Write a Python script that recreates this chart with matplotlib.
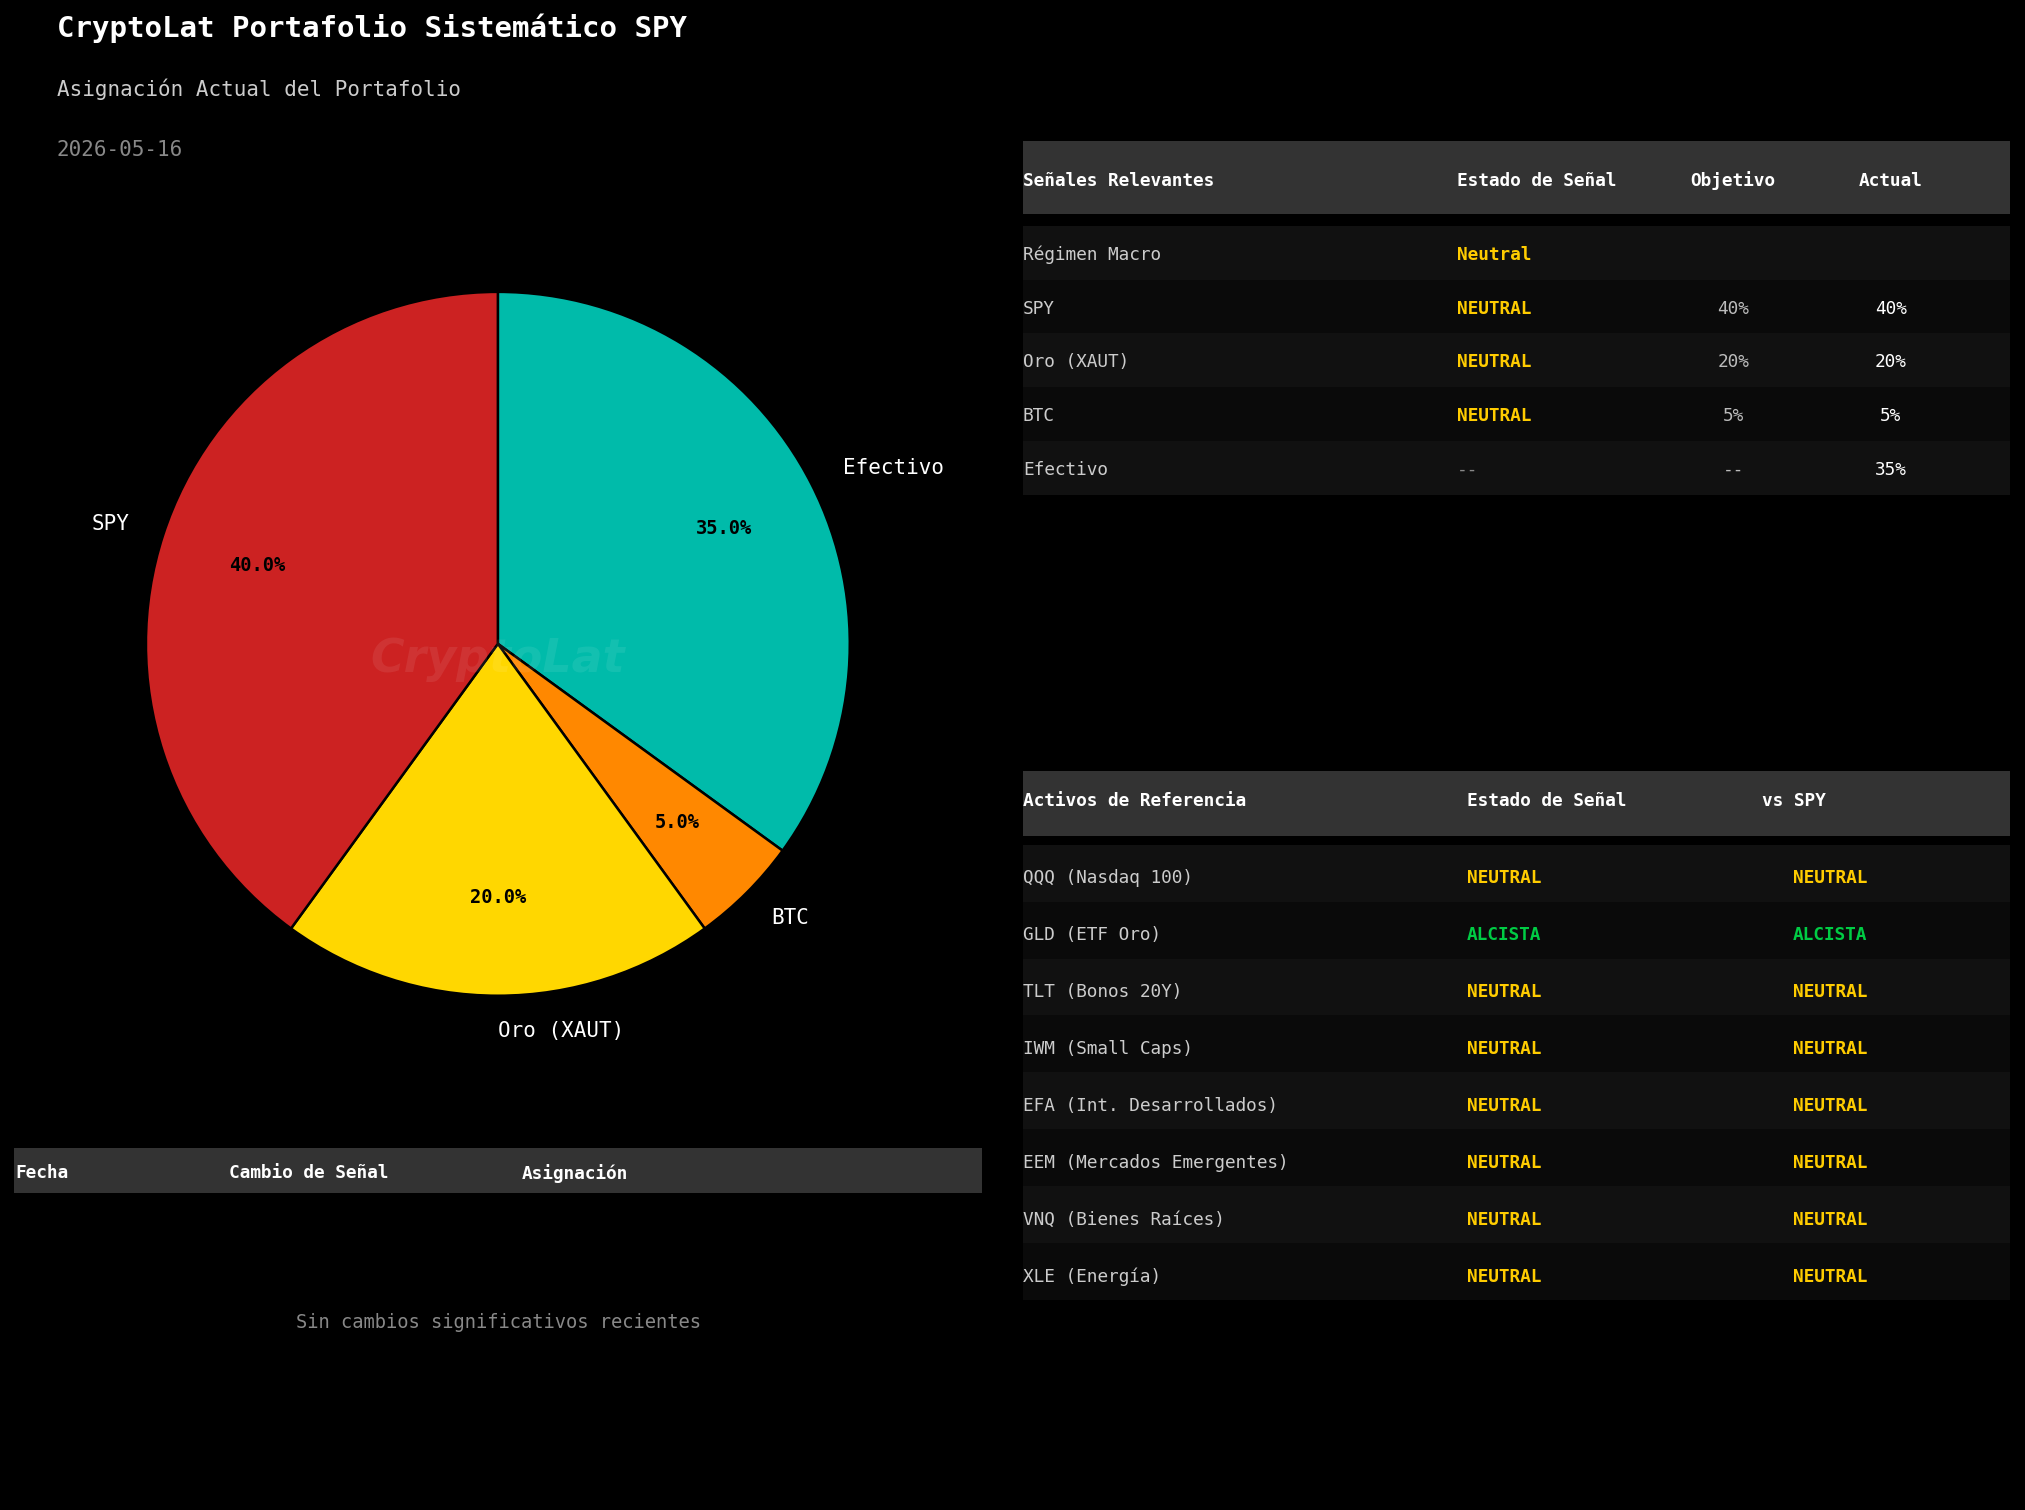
import matplotlib.pyplot as plt

plt.rcParams['font.family'] = 'DejaVu Sans Mono'

title = "CryptoLat Portafolio Sistemático SPY"
subtitle = "Asignación Actual del Portafolio"
fecha = "2026-05-16"

# asignacion (pie)
pie_labels = ["Efectivo", "BTC", "Oro (XAUT)", "SPY"]
pie_values = [35, 5, 20, 40]
pie_colors = ["#00bbaa", "#ff8800", "#ffd700", "#cc2222"]

# tabla de señales
sig_cols = ["Señales Relevantes", "Estado de Señal", "Objetivo", "Actual"]
sig_names = ["Régimen Macro", "SPY", "Oro (XAUT)", "BTC", "Efectivo"]
sig_states = ["Neutral", "NEUTRAL", "NEUTRAL", "NEUTRAL", "--"]
sig_target = ["", "40%", "20%", "5%", "--"]
sig_actual = ["", "40%", "20%", "5%", "35%"]

# activos de referencia
ref_cols = ["Activos de Referencia", "Estado de Señal", "vs SPY"]
ref_names = ["QQQ (Nasdaq 100)", "GLD (ETF Oro)", "TLT (Bonos 20Y)", "IWM (Small Caps)",
             "EFA (Int. Desarrollados)", "EEM (Mercados Emergentes)", "VNQ (Bienes Raíces)",
             "XLE (Energía)"]
ref_states = ["NEUTRAL", "ALCISTA", "NEUTRAL", "NEUTRAL", "NEUTRAL", "NEUTRAL", "NEUTRAL", "NEUTRAL"]
ref_vs_spy = ["NEUTRAL", "ALCISTA", "NEUTRAL", "NEUTRAL", "NEUTRAL", "NEUTRAL", "NEUTRAL", "NEUTRAL"]

# historial de cambios
hist_cols = ["Fecha", "Cambio de Señal", "Asignación"]
hist_rows = []
hist_empty = "Sin cambios significativos recientes"

BG = "#000000"
HEAD_BG = "#333333"
ROW_BG = ["#111111", "#0a0a0a"]
FS = 8.5


def state_style(s):
    if s.upper() == "NEUTRAL":
        return dict(color="#ffcc00", fontweight="bold")
    if s.upper() == "ALCISTA":
        return dict(color="#00cc44", fontweight="bold")
    if s.upper() == "BAJISTA":
        return dict(color="#ff3333", fontweight="bold")
    return dict(color="#888888")


fig = plt.figure(figsize=(13.5, 10.0667), dpi=150, facecolor=BG)

# lienzo en unidades de la imagen
W, H = 1568.0, 1169.2
cv = fig.add_axes([0, 0, 1, 1])
cv.set_xlim(0, W)
cv.set_ylim(H, 0)
cv.axis('off')
cv.set_facecolor(BG)

cv.text(44, 22, title, color="white", fontsize=14, fontweight="bold", va="center")
cv.text(44, 69, subtitle, color="#cccccc", fontsize=10, va="center")
cv.text(44, 116, fecha, color="#888888", fontsize=10, va="center")

# pie
cx, cy, r = 385.5, 498.5, 272.5
side = 2.5 * r
pax = fig.add_axes([(cx - side / 2) / W, (H - cy - side / 2) / H, side / W, side / H])
wedges, texts, autotexts = pax.pie(pie_values, labels=pie_labels, colors=pie_colors,
                                   startangle=90, counterclock=False, autopct='%1.1f%%',
                                   pctdistance=0.72, labeldistance=1.1,
                                   wedgeprops=dict(edgecolor="black", linewidth=1.2),
                                   textprops=dict(color="white", fontsize=10))
for t in texts:
    x, _ = t.get_position()
    t.set_ha("left" if x > -1e-6 else "right")
for t in autotexts:
    t.set_color("black")
    t.set_fontweight("bold")
    t.set_fontsize(9)
pax.set_xlim(-1.25, 1.25)
pax.set_ylim(-1.25, 1.25)
pax.set_aspect('equal')
pax.text(0, -0.045, "CryptoLat", family="DejaVu Sans", fontsize=22, fontweight="bold",
         fontstyle="italic", color="white", alpha=0.08, ha="center", va="center")


def band(x0, x1, y0, y1, color):
    cv.fill_between([x0, x1], y0, y1, color=color, lw=0)


# tabla de señales relevantes
tx0, tx1 = 792, 1556
band(tx0, tx1, 109, 166, HEAD_BG)
sig_x = [792, 1128, 1342, 1464]
sig_ha = ["left", "left", "center", "center"]
for x, ha, c in zip(sig_x, sig_ha, sig_cols):
    cv.text(x, 140, c, color="white", fontsize=FS, fontweight="bold", ha=ha, va="center")
rh = 41.6
for i, name in enumerate(sig_names):
    y0 = 175 + i * rh
    band(tx0, tx1, y0, y0 + rh, ROW_BG[i % 2])
    yc = y0 + rh / 2 + 1.5
    cv.text(sig_x[0], yc, name, color="#cccccc", fontsize=FS, va="center")
    cv.text(sig_x[1], yc, sig_states[i], fontsize=FS, va="center", **state_style(sig_states[i]))
    cv.text(sig_x[2], yc, sig_target[i], color="#bbbbbb", fontsize=FS, ha="center", va="center")
    cv.text(sig_x[3], yc, sig_actual[i], color="white", fontsize=FS, ha="center", va="center")

# activos de referencia
band(tx0, tx1, 597, 647, HEAD_BG)
ref_hx = [792, 1136, 1364]
for x, c in zip(ref_hx, ref_cols):
    cv.text(x, 620.5, c, color="white", fontsize=FS, fontweight="bold", va="center")
rh2 = 44.1
for i, name in enumerate(ref_names):
    y0 = 654 + i * rh2
    band(tx0, tx1, y0, y0 + rh2, ROW_BG[i % 2])
    yc = y0 + rh2 / 2 + 4
    cv.text(792, yc, name, color="#cccccc", fontsize=FS, va="center")
    cv.text(1136, yc, ref_states[i], fontsize=FS, va="center", **state_style(ref_states[i]))
    cv.text(1388, yc, ref_vs_spy[i], fontsize=FS, va="center", **state_style(ref_vs_spy[i]))

# historial
band(11, 760, 889, 924, HEAD_BG)
for x, c in zip([12, 177, 404], hist_cols):
    cv.text(x, 908.5, c, color="white", fontsize=FS, fontweight="bold", va="center")
if not hist_rows:
    cv.text(386, 1024, hist_empty, color="#888888", fontsize=9, ha="center", va="center")

fig.savefig("out.png", dpi=150, facecolor=BG)
